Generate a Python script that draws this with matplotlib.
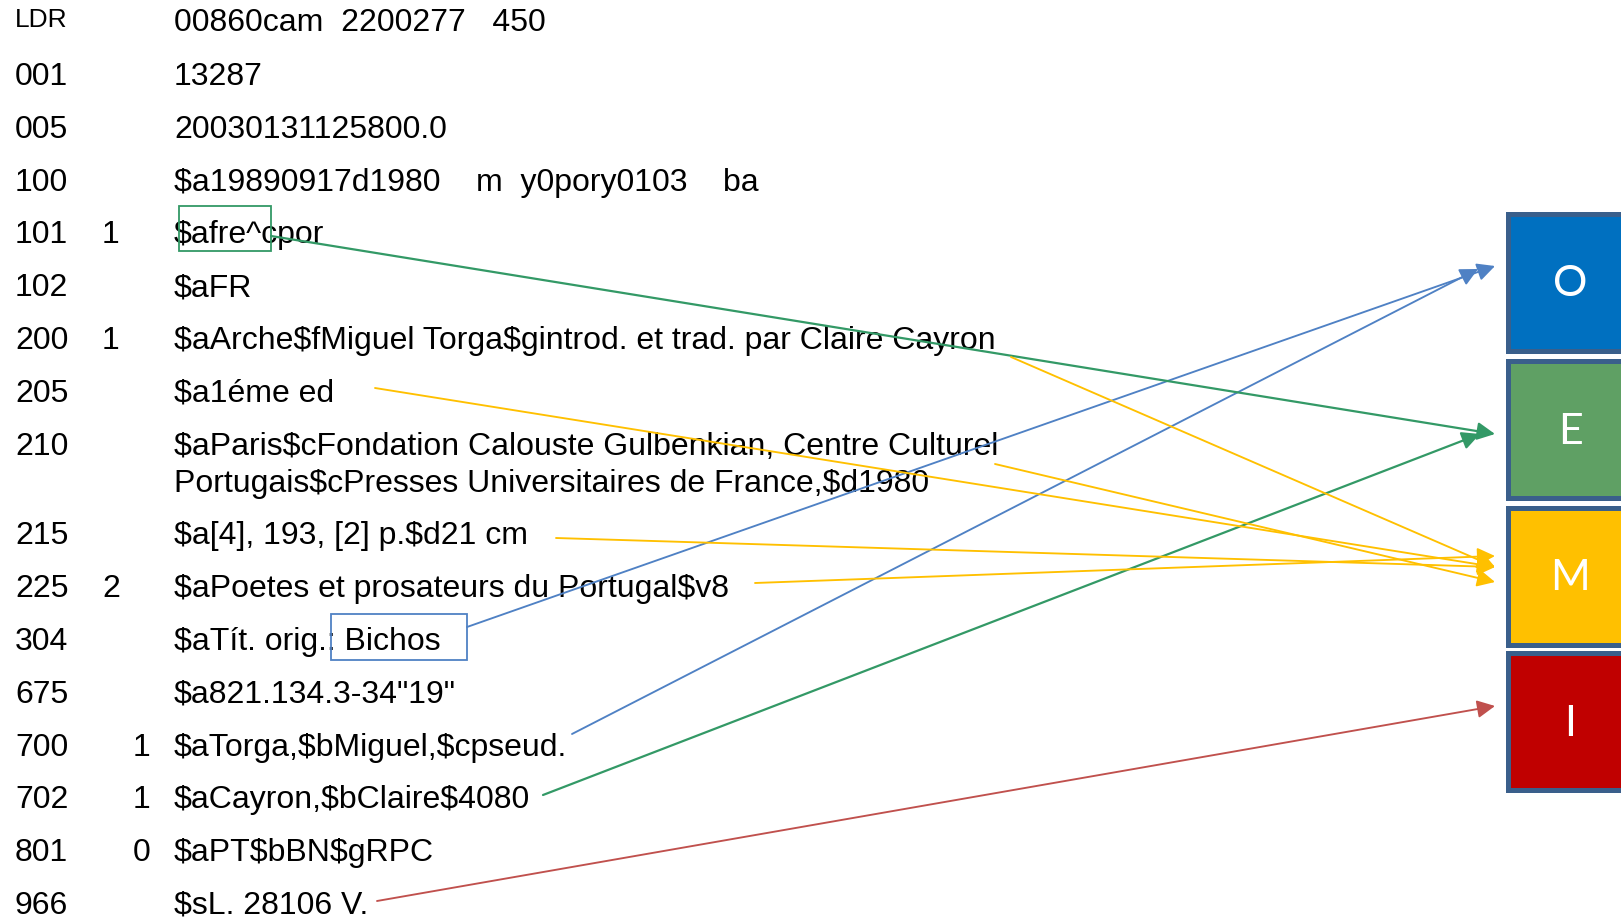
import matplotlib
matplotlib.use('Agg')
import matplotlib.pyplot as plt
from matplotlib.patches import Rectangle, FancyArrowPatch

plt.rcParams['text.parse_math'] = False

# MARC record (UNIMARC) fields
ldr_value = '00860cam  2200277   450'
tags = ['001', '005', '100', '101', '102', '200', '205', '210', '215',
        '225', '304', '675', '700', '702', '801', '966']
ind1 = ['', '', '', '1', '', '1', '', '', '', '2', '', '', '', '', '', '']
ind2 = ['', '', '', '', '', '', '', '', '', '', '', '', '1', '1', '0', '']
values = ['13287',
          '20030131125800.0',
          '$a19890917d1980    m  y0pory0103    ba',
          '$afre^cpor',
          '$aFR',
          '$aArche$fMiguel Torga$gintrod. et trad. par Claire Cayron',
          '$a1éme ed',
          '$aParis$cFondation Calouste Gulbenkian, Centre Culturel\n'
          'Portugais$cPresses Universitaires de France,$d1980',
          '$a[4], 193, [2] p.$d21 cm',
          '$aPoetes et prosateurs du Portugal$v8',
          '$aTít. orig.: Bichos',
          '$a821.134.3-34"19"',
          '$aTorga,$bMiguel,$cpseud.',
          '$aCayron,$bClaire$4080',
          '$aPT$bBN$gRPC',
          '$sL. 28106 V.']

# categories on the right
cats = ['O', 'E', 'M', 'I']
cat_colors = ['#0070C0', '#5FA064', '#FFC000', '#C00000']

# links: (start point, target category, tip)
links = [
    ((467, 627), 'O', (1495, 266)),   # 304 Bichos
    ((572, 734), 'O', (1478, 269)),   # 700
    ((271, 236), 'E', (1495, 434)),   # 101
    ((543, 795), 'E', (1480, 434)),   # 702
    ((1011, 357), 'M', (1495, 567)),  # 200
    ((375, 388), 'M', (1495, 567)),   # 205
    ((995, 464), 'M', (1495, 582)),   # 210
    ((556, 538), 'M', (1495, 567)),   # 215
    ((755, 583), 'M', (1495, 556)),   # 225
    ((377, 901), 'I', (1495, 706)),   # 966
]
link_colors = {'O': '#4F81C4', 'E': '#339966', 'M': '#FFC000', 'I': '#C0504D'}

W, H = 1621, 919
fig = plt.figure(figsize=(W / 100, H / 100), dpi=100)
ax = fig.add_axes([0, 0, 1, 1])
ax.set_xlim(0, W)
ax.set_ylim(H, 0)
ax.axis('off')

font = 'Liberation Sans'
fs = 23
x_tag, x_i1, x_i2, x_val = 15, 102, 133, 174
y0, dy, extra = 85, 52.8, 37

ax.text(x_tag, 27, 'LDR', fontsize=19, family=font, va='baseline')
ax.text(x_val, 31, ldr_value, fontsize=fs, family=font, va='baseline')

shift = 0
for i, tag in enumerate(tags):
    yb = y0 + dy * i + shift
    ax.text(x_tag, yb, tag, fontsize=fs, family=font, va='baseline')
    ax.text(x_i1, yb, ind1[i], fontsize=fs, family=font, va='baseline')
    ax.text(x_i2, yb, ind2[i], fontsize=fs, family=font, va='baseline')
    for k, line in enumerate(values[i].split('\n')):
        ax.text(x_val, yb + k * extra, line, fontsize=fs, family=font,
                va='baseline')
    shift += extra * (len(values[i].split('\n')) - 1)

# highlight boxes
ax.add_patch(Rectangle((179, 206), 92, 45, fill=False, ec='#339966', lw=1.3,
                       zorder=3))
ax.add_patch(Rectangle((331, 614), 136, 46, fill=False, ec='#4F81C4', lw=1.3,
                       zorder=3))

# category boxes
box_tops = [212, 359, 506, 651]
box_h = 141
for c, col, top in zip(cats, cat_colors, box_tops):
    ax.add_patch(Rectangle((1506, top), 130, box_h, fc='#D0DAE6', ec='none',
                           zorder=2))
    ax.add_patch(Rectangle((1508, top + 2), 130, box_h - 4, fc=col,
                           ec='#3A5F8B', lw=3.6, zorder=2))
    ax.text(1570, top + box_h / 2 + 2, c, fontsize=31, family='Lato',
            color='white', ha='center', va='center', zorder=3)

for start, cat, tip in links:
    arr = FancyArrowPatch(start, tip, arrowstyle='-|>,head_length=0.6,head_width=0.3',
                          mutation_scale=18, color=link_colors[cat],
                          lw=1.6 if cat == 'E' else 1.35, shrinkA=0, shrinkB=0,
                          zorder=4)
    ax.add_patch(arr)

fig.savefig('out.png', dpi=100)
